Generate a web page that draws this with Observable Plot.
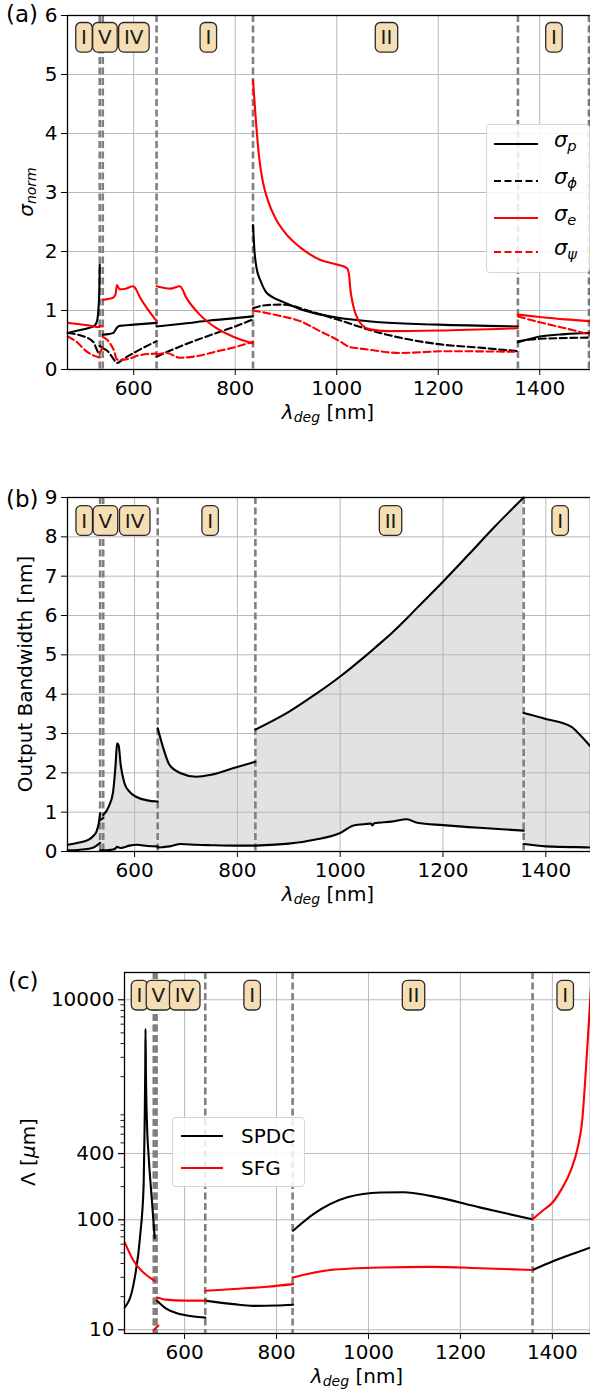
<!DOCTYPE html>
<html><head><meta charset="utf-8">
<script src="https://cdn.jsdelivr.net/npm/d3@7"></script>
<script src="https://cdn.jsdelivr.net/npm/@observablehq/plot@0.6"></script>
<style>
body{margin:0;background:#fff;font-family:"DejaVu Sans",sans-serif;}
#root{position:relative;width:590px;height:1397px;overflow:hidden;background:#fff;}
.panel{position:absolute;left:0;}
.lbl{position:absolute;font-size:20px;color:#000;white-space:nowrap;transform:translate(-50%,-50%);line-height:1;}
.rot{transform:translate(-50%,-50%) rotate(-90deg);}
.tag{position:absolute;font-size:23px;color:#000;line-height:1;}
.legend{position:absolute;background:rgba(255,255,255,0.85);border:1px solid #d6d6d6;border-radius:4px;box-sizing:border-box;}
.legend svg{position:absolute;left:0;top:0;}
.legend .t{position:absolute;font-size:21px;line-height:1;transform:translateY(-50%);}
sub{font-size:0.7em;vertical-align:-0.25em;}
i{font-style:italic;}
</style></head><body><div id="root"></div>
<script>
// ---------- shared ----------
const xTicks = [600, 800, 1000, 1200, 1400];
const regionBounds = [533, 539, 645, 835, 1357, 1497];
const regionNames = ["I", "V", "IV", "I", "II", "I"];
const regionCenters = [502, 543, 600, 747, 1098, 1428];

// ---------- panel (a): sigma_norm, segments [lambda, value] ----------
const sigmaP = [
  [[470,0.62],[490,0.66],[510,0.70],[520,0.73],[526,0.78],[529,0.88],[531,1.1],[532.5,1.45],[533,1.78]],
  [[539,0.59],[550,0.60],[560,0.62],[566,0.70],[572,0.74],[600,0.76],[645,0.79]],
  [[645,0.73],[700,0.78],[750,0.83],[800,0.87],[835,0.90]],
  [[835,2.45],[838,2.0],[842,1.72],[850,1.5],[860,1.32],[875,1.22],[893,1.15],[926,1.03],[954,0.96],[1000,0.88],[1085,0.80],[1200,0.76],[1357,0.73]],
  [[1357,0.46],[1400,0.56],[1450,0.60],[1500,0.62]]
];
const sigmaPhi = [
  [[470,0.62],[490,0.59],[505,0.55],[521,0.46],[528,0.32],[533,0.25]],
  [[533,0.40],[539,0.36]],
  [[539,0.36],[550,0.30],[560,0.18],[567,0.11],[580,0.18],[604,0.30],[645,0.48]],
  [[645,0.22],[700,0.42],[750,0.58],[800,0.73],[835,0.85]],
  [[835,1.04],[860,1.09],[893,1.10],[954,0.97],[1000,0.85],[1085,0.62],[1200,0.43],[1282,0.37],[1357,0.31]],
  [[1357,0.48],[1400,0.52],[1500,0.54]]
];
const sigmaE = [
  [[470,0.79],[490,0.77],[510,0.75],[528,0.72],[533,0.72]],
  [[533,0.74],[539,0.73]],
  [[539,1.18],[558,1.21],[564,1.27],[567,1.43],[572,1.36],[584,1.37],[599,1.41],[603,1.38],[613,1.21],[626,1.04],[645,0.82]],
  [[645,1.41],[672,1.37],[691,1.41],[704,1.21],[730,0.93],[763,0.70],[795,0.56],[835,0.44]],
  [[835,4.9],[840,4.3],[847,3.6],[854,3.2],[865,2.85],[880,2.55],[900,2.3],[928,2.07],[967,1.86],[1000,1.78],[1020,1.72],[1024,1.62],[1027,1.35],[1032,1.1],[1038,0.92],[1049,0.76],[1066,0.68],[1100,0.65],[1200,0.66],[1357,0.70]],
  [[1357,0.93],[1400,0.89],[1450,0.85],[1500,0.82]]
];
const sigmaPsi = [
  [[470,0.56],[490,0.45],[505,0.32],[520,0.24],[533,0.20]],
  [[533,0.28],[539,0.38]],
  [[539,0.55],[548,0.50],[555,0.42],[562,0.30],[566,0.18],[571,0.16],[590,0.18],[610,0.24],[645,0.27]],
  [[645,0.25],[665,0.28],[691,0.20],[720,0.22],[760,0.30],[800,0.38],[835,0.47]],
  [[835,1.0],[893,0.90],[928,0.82],[967,0.65],[1006,0.48],[1026,0.38],[1052,0.35],[1125,0.28],[1216,0.31],[1357,0.30]],
  [[1357,0.90],[1400,0.80],[1450,0.70],[1500,0.59]]
];

// ---------- panel (b): output bandwidth, segments ----------
const bwLambda = [
  [470,490,511,520,526,530,533],
  [533,539],
  [539,550,558,563,566,569,573,580,590,605,625,645],
  [645,654,668,690,720,749,793,835],
  [835,900,950,1000,1026,1050,1060,1063,1066,1100,1130,1150,1200,1250,1300,1357],
  [1357,1400,1450,1460,1487]
];
const bwUpper = [
  [0.17,0.22,0.30,0.40,0.51,0.70,0.97],
  [0.80,0.85],
  [0.93,1.15,1.50,2.20,2.75,2.70,2.20,1.75,1.52,1.38,1.30,1.27],
  [3.13,2.71,2.20,1.99,1.90,1.95,2.12,2.28],
  [3.10,3.55,3.98,4.45,4.72,4.98,5.09,5.125,5.16,5.55,5.93,6.20,6.86,7.55,8.25,9.00],
  [3.52,3.37,3.17,3.05,2.67]
];
const bwLower = [
  [0.03,0.04,0.07,0.10,0.15,0.19,0.22],
  [0.03,0.03],
  [0.03,0.04,0.05,0.08,0.12,0.10,0.09,0.11,0.15,0.17,0.14,0.13],
  [0.10,0.11,0.13,0.19,0.17,0.16,0.15,0.15],
  [0.15,0.20,0.30,0.47,0.66,0.70,0.71,0.66,0.72,0.76,0.82,0.73,0.67,0.62,0.58,0.53],
  [0.19,0.13,0.11,0.11,0.10]
];

// ---------- panel (c): poling period, segments [lambda, value] ----------
const spdc = [
  [[470,16],[489,26],[503,69],[511,210],[513,700],[514.5,2500],[515,5450],[516,2000],[518,800],[522,369],[529,148],[535,68]],
  [[540,18.4],[560,15.6],[580,14.3],[600,13.6],[620,13.2],[645,12.9]],
  [[645,18.4],[707,17.1],[750,16.5],[800,16.6],[836,16.9]],
  [[836,79.4],[881,113],[954,160],[1026,177],[1077,178],[1135,165],[1244,129],[1356,101]],
  [[1357,34.9],[1404,42.4],[1450,50],[1483,56]]
];
const sfg = [
  [[470,62],[489,42.4],[511,33],[535,27.9]],
  [[533,10],[543,10.9]],
  [[540,19.7],[560,18.8],[600,18.4],[645,18.4]],
  [[645,22.6],[707,23.5],[780,24.6],[836,26]],
  [[836,29.9],[917,34.9],[1026,36.8],[1135,37.3],[1244,36.3],[1356,34.9]],
  [[1357,101],[1380,122],[1400,143],[1420,190],[1440,280],[1455,450],[1465,800],[1472,2000],[1478,5000],[1484,13000]]
];
const cTicks = [10, 100, 400, 10000];
const cMinor = [20,30,40,50,60,70,80,90,200,300,500,600,700,800,900,2000,3000,4000,5000,6000,7000,8000,9000];

// ---------- helpers ----------
const flat = segs => segs.flatMap((s, i) => s.map(([x, y]) => ({x, y, seg: i})));
const GRID = {stroke: "#b8b8b8", strokeOpacity: 1, strokeWidth: 1};
const REG = {stroke: "#808080", strokeWidth: 2.6, strokeDasharray: "7,3.5"};
const LW = 2.1;
const DASH = "7,3.5";
const REGFILL = "#1a1a1a";
const fmt = d => String(d);
const baseStyle = {fontSize: "20px", fontFamily: "DejaVu Sans", color: "#000", background: "transparent", overflow: "visible"};

function boxes(svg) {
  svg.querySelectorAll(`g[aria-label="text"][fill="${REGFILL}"] text`).forEach(t => {
    const b = t.getBBox();
    const cy = b.y + b.height / 2;
    const r = document.createElementNS("http://www.w3.org/2000/svg", "rect");
    r.setAttribute("x", b.x - 5.3);
    r.setAttribute("y", cy - 14.8);
    r.setAttribute("width", b.width + 10.6);
    r.setAttribute("height", 29.6);
    r.setAttribute("rx", 5);
    r.setAttribute("fill", "#f5deb3");
    r.setAttribute("stroke", "#2a2a2a");
    r.setAttribute("stroke-width", 1.3);
    const tr = t.getAttribute("transform");
    if (tr) r.setAttribute("transform", tr);
    t.parentNode.insertBefore(r, t);
  });
}

const root = document.getElementById("root");
function place(svg, top) {
  svg.classList.add("panel");
  svg.style.top = top + "px";
  root.appendChild(svg);
  boxes(svg);
}
function html(str) { root.insertAdjacentHTML("beforeend", str); }
const regLabels = y => regionNames.map((n, i) => ({n, x: regionCenters[i], y}));

// ---------- panel (a) ----------
const domA = [469.5, 1500];
const plotA = Plot.plot({
  width: 590, height: 430, marginTop: 15, marginBottom: 61, marginLeft: 67, marginRight: 0,
  style: baseStyle,
  x: {domain: domA},
  y: {domain: [0, 6]},
  marks: [
    Plot.gridX(xTicks, GRID),
    Plot.gridY([1,2,3,4,5], GRID),
    Plot.ruleX(regionBounds.filter(b => b <= domA[1]), REG),
    Plot.line(flat(sigmaP), {x: "x", y: "y", z: "seg", stroke: "#000", strokeWidth: LW, curve: "monotone-x"}),
    Plot.line(flat(sigmaPhi), {x: "x", y: "y", z: "seg", stroke: "#000", strokeWidth: LW, strokeDasharray: DASH, curve: "monotone-x"}),
    Plot.line(flat(sigmaE), {x: "x", y: "y", z: "seg", stroke: "#ff0000", strokeWidth: LW, curve: "monotone-x"}),
    Plot.line(flat(sigmaPsi), {x: "x", y: "y", z: "seg", stroke: "#ff0000", strokeWidth: LW, strokeDasharray: DASH, curve: "monotone-x"}),
    Plot.text(regLabels(5.62), {x: "x", y: "y", text: "n", fontSize: 20, fill: REGFILL}),
    Plot.axisX(xTicks, {tickSize: 6, tickPadding: 5, label: null, fontSize: 20, tickFormat: fmt}),
    Plot.axisY([0,1,2,3,4,5,6], {tickSize: 6, tickPadding: 4, label: null, fontSize: 20, tickFormat: fmt}),
    Plot.frame({stroke: "#000", strokeWidth: 1.3})
  ]
});
place(plotA, 0);

// ---------- panel (b) ----------
const domB = [469.5, 1487];
const bwRows = bwLambda.flatMap((xs, i) => xs.map((x, j) => ({x, lo: bwLower[i][j], hi: bwUpper[i][j], seg: i})));
const plotB = Plot.plot({
  width: 590, height: 421, marginTop: 17, marginBottom: 50, marginLeft: 67, marginRight: 0,
  style: baseStyle,
  x: {domain: domB},
  y: {domain: [0, 9]},
  marks: [
    Plot.areaY(bwRows, {x: "x", y1: "lo", y2: "hi", z: "seg", fill: "#b4b4b4", fillOpacity: 0.38, curve: "monotone-x"}),
    Plot.gridX(xTicks, GRID),
    Plot.gridY([1,2,3,4,5,6,7,8], GRID),
    Plot.ruleX(regionBounds.filter(b => b <= domB[1]), REG),
    Plot.line(bwRows, {x: "x", y: "hi", z: "seg", stroke: "#000", strokeWidth: LW, curve: "monotone-x"}),
    Plot.line(bwRows, {x: "x", y: "lo", z: "seg", stroke: "#000", strokeWidth: LW, curve: "monotone-x"}),
    Plot.text(regLabels(8.4), {x: "x", y: "y", text: "n", fontSize: 20, fill: REGFILL}),
    Plot.axisX(xTicks, {tickSize: 6, tickPadding: 5, label: null, fontSize: 20, tickFormat: fmt}),
    Plot.axisY([0,1,2,3,4,5,6,7,8,9], {tickSize: 6, tickPadding: 4, label: null, fontSize: 20, tickFormat: fmt}),
    Plot.frame({stroke: "#000", strokeWidth: 1.3})
  ]
});
place(plotB, 480);

// ---------- panel (c) ----------
const domC = [469.3, 1483];
const pxNm = (domC[1] - domC[0]) / 466; // nm per pixel, for tick lengths
const plotC = Plot.plot({
  width: 590, height: 413, marginTop: 12, marginBottom: 40, marginLeft: 124, marginRight: 0,
  style: baseStyle,
  x: {domain: domC},
  y: {type: "log", domain: [9.25, 17700], axis: null},
  marks: [
    Plot.gridX(xTicks, GRID),
    Plot.ruleY(cTicks, GRID),
    Plot.ruleX(regionBounds.filter(b => b <= domC[1]), REG),
    Plot.ruleX([536.5], {stroke: "#808080", strokeWidth: 4, strokeDasharray: "7,3.5"}),
    Plot.line(flat(spdc), {x: "x", y: "y", z: "seg", stroke: "#000", strokeWidth: LW, curve: "monotone-x"}),
    Plot.line(flat(sfg), {x: "x", y: "y", z: "seg", stroke: "#ff0000", strokeWidth: LW, curve: "monotone-x"}),
    Plot.text(regLabels(10870), {x: "x", y: "y", text: "n", fontSize: 20, fill: REGFILL}),
    Plot.axisX(xTicks, {tickSize: 6, tickPadding: 5, label: null, fontSize: 20, tickFormat: fmt}),
    Plot.ruleY(cTicks, {x1: domC[0] - 6 * pxNm, x2: domC[0], stroke: "#000", strokeWidth: 1.2}),
    Plot.ruleY(cMinor, {x1: domC[0] - 3.5 * pxNm, x2: domC[0], stroke: "#000", strokeWidth: 0.9}),
    Plot.text(cTicks, {y: d => d, text: fmt, frameAnchor: "left", textAnchor: "end", dx: -10, fontSize: 20, fill: "#000"}),
    Plot.frame({stroke: "#000", strokeWidth: 1.3})
  ]
});
place(plotC, 960);

// ---------- text overlays ----------
html('<div class="tag" style="left:6px;top:3px">(a)</div>');
html('<div class="tag" style="left:6px;top:488px">(b)</div>');
html('<div class="tag" style="left:8px;top:970px">(c)</div>');

const xl = '<i>λ</i><sub><i>deg</i></sub> [nm]';
html(`<div class="lbl" style="left:328px;top:413px">${xl}</div>`);
html(`<div class="lbl" style="left:328px;top:895px">${xl}</div>`);
html(`<div class="lbl" style="left:357px;top:1377px">${xl}</div>`);
html('<div class="lbl rot" style="left:27px;top:192px"><i>σ</i><sub><i>norm</i></sub></div>');
html('<div class="lbl rot" style="left:25px;top:674px">Output Bandwidth [nm]</div>');
html('<div class="lbl rot" style="left:28px;top:1152px">Λ [<i>μ</i>m]</div>');

// legend (a)
const legA = [
  {t: '<i>σ</i><sub><i>p</i></sub>', c: "#000", d: ""},
  {t: '<i>σ</i><sub><i>ϕ</i></sub>', c: "#000", d: DASH},
  {t: '<i>σ</i><sub><i>e</i></sub>', c: "#ff0000", d: ""},
  {t: '<i>σ</i><sub><i>ψ</i></sub>', c: "#ff0000", d: DASH}
];
const rowsA = [19, 56, 93, 127];
let la = '<div class="legend" style="left:486px;top:124px;width:104px;height:149px"><svg width="104" height="149">';
legA.forEach((e, i) => { la += `<line x1="7" x2="51" y1="${rowsA[i]}" y2="${rowsA[i]}" stroke="${e.c}" stroke-width="2.1" ${e.d ? `stroke-dasharray="${e.d}"` : ""}/>`; });
la += '</svg>';
legA.forEach((e, i) => { la += `<div class="t" style="left:67px;top:${rowsA[i] - 2}px">${e.t}</div>`; });
la += '</div>';
html(la);

// legend (c)
const legC = [{t: "SPDC", c: "#000"}, {t: "SFG", c: "#ff0000"}];
const rowsC = [18, 50];
let lc = '<div class="legend" style="left:172px;top:1117px;width:133px;height:70px"><svg width="133" height="70">';
legC.forEach((e, i) => { lc += `<line x1="8" x2="50" y1="${rowsC[i]}" y2="${rowsC[i]}" stroke="${e.c}" stroke-width="2.1"/>`; });
lc += '</svg>';
legC.forEach((e, i) => { lc += `<div class="t" style="left:68px;top:${rowsC[i]}px;font-size:20px">${e.t}</div>`; });
lc += '</div>';
html(lc);
</script></body></html>
